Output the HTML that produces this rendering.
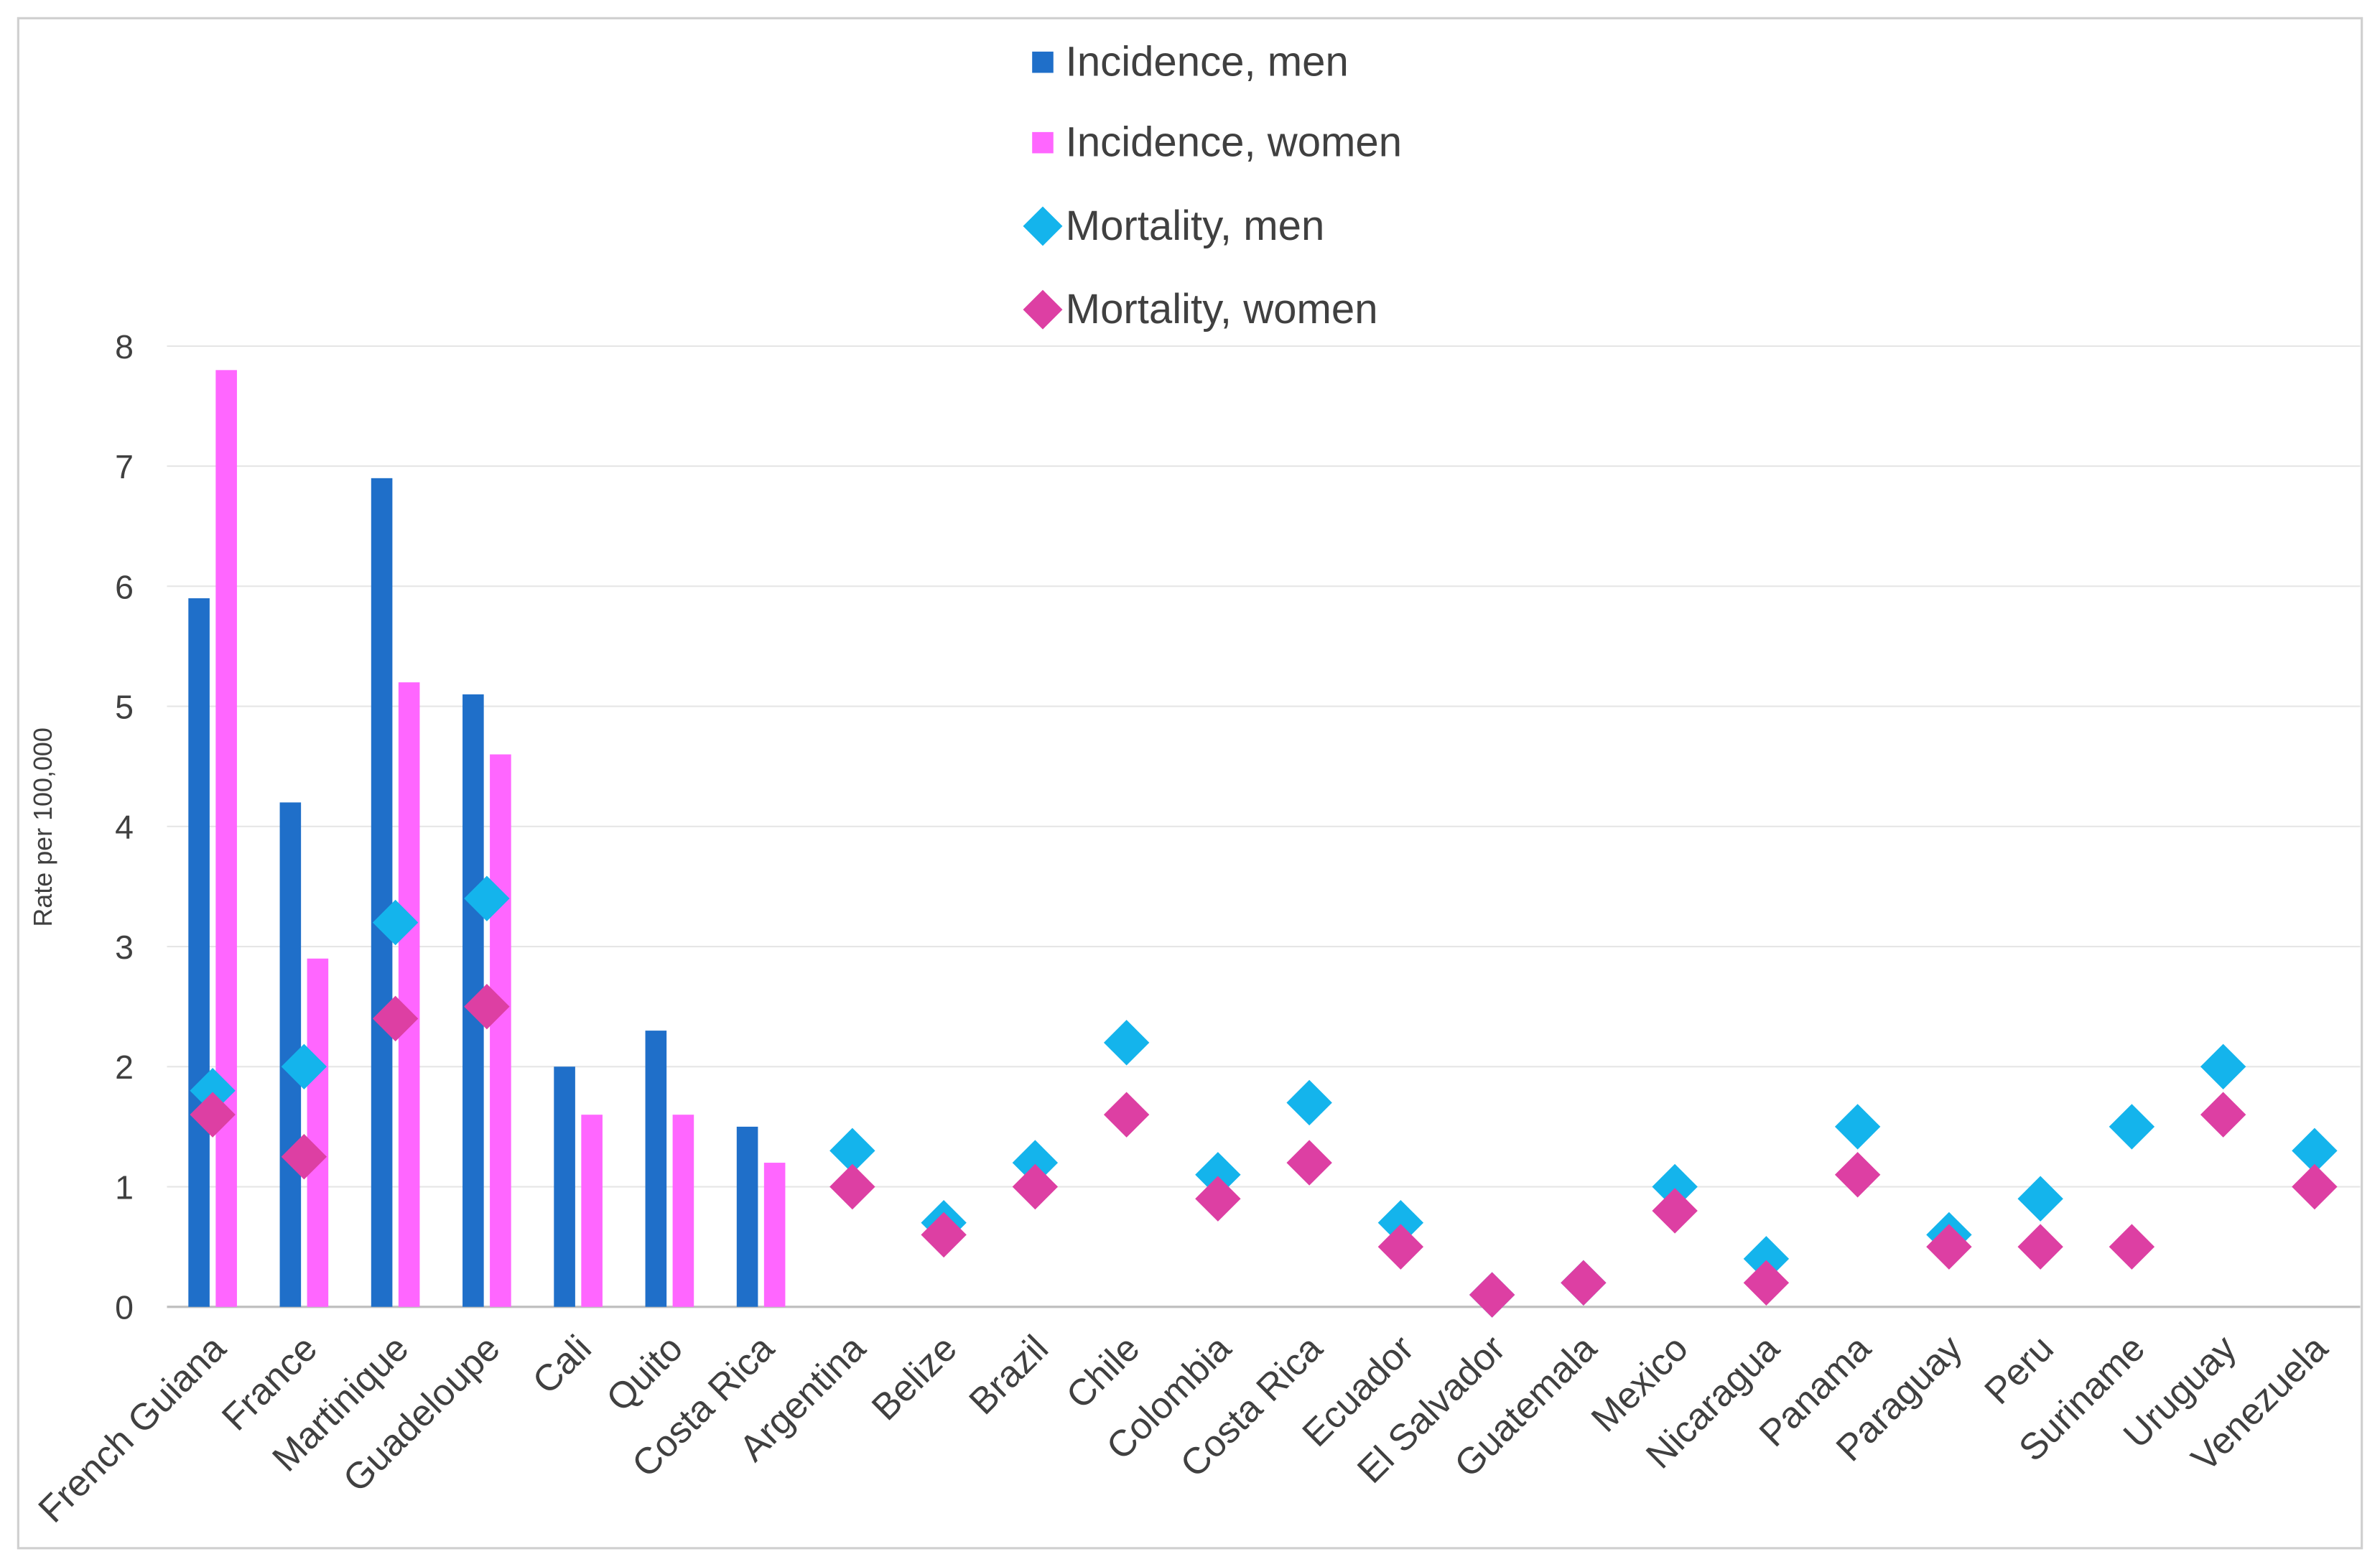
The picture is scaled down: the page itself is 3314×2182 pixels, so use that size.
<!DOCTYPE html>
<html><head><meta charset="utf-8"><style>
html,body{margin:0;padding:0;background:#fff;}
svg{display:block;font-family:"Liberation Sans",Arial,sans-serif;}
</style></head><body>
<svg id="chart" width="3314" height="2182" viewBox="0 0 1568 1032.4" preserveAspectRatio="none" xmlns="http://www.w3.org/2000/svg">
<rect x="0" y="0" width="1568" height="1032.4" fill="#fff"/>
<rect x="12" y="12" width="1544" height="1008" fill="none" stroke="#d0d0d0" stroke-width="1.5"/>
<g id="grid"></g><g id="yticks"></g><g id="bars"></g><g id="marks"></g><g id="xlabels"></g>
<text transform="translate(34,545) rotate(-90)" text-anchor="middle" font-size="17" fill="#404040">Rate per  100,000</text>
<g>
 <g><rect x="680" y="34" width="14" height="14" fill="#1f6fc9"/><text x="702" y="50" font-size="27.5" fill="#404040">Incidence, men</text></g>
 <g><rect x="680" y="87" width="14" height="14" fill="#ff66ff"/><text x="702" y="103" font-size="27.5" fill="#404040">Incidence, women</text></g>
 <g><polygon points="687,136 700,149 687,162 674,149" fill="#14b4ec"/><text x="702" y="158" font-size="27.5" fill="#404040">Mortality, men</text></g>
 <g><polygon points="687,191 700,204 687,217 674,204" fill="#dd3fa3"/><text x="702" y="213" font-size="27.5" fill="#404040">Mortality, women</text></g>
</g>
</svg>
<script>
const categories=["French Guiana","France","Martinique","Guadeloupe","Cali","Quito","Costa Rica","Argentina","Belize","Brazil","Chile","Colombia","Costa Rica","Ecuador","El Salvador","Guatemala","Mexico","Nicaragua","Panama","Paraguay","Peru","Suriname","Uruguay","Venezuela"];
const incidenceMen=[5.9,4.2,6.9,5.1,2.0,2.3,1.5,null,null,null,null,null,null,null,null,null,null,null,null,null,null,null,null,null];
const incidenceWomen=[7.8,2.9,5.2,4.6,1.6,1.6,1.2,null,null,null,null,null,null,null,null,null,null,null,null,null,null,null,null,null];
const mortalityMen=[1.8,2.0,3.2,3.4,null,null,null,1.3,0.7,1.2,2.2,1.1,1.7,0.7,0.1,0.2,1.0,0.4,1.5,0.6,0.9,1.5,2.0,1.3];
const mortalityWomen=[1.6,1.25,2.4,2.5,null,null,null,1.0,0.6,1.0,1.6,0.9,1.2,0.5,0.1,0.2,0.8,0.2,1.1,0.5,0.5,0.5,1.6,1.0];
const yTicks=[0,1,2,3,4,5,6,7,8];
const NS="http://www.w3.org/2000/svg";
const X0=110,X1=1555,Y0=861,Y8=228;
const band=(X1-X0)/categories.length;
function xc(i){return X0+band*(i+0.5);}
function ys(v){return Y0-(Y0-Y8)*v/8;}
function mk(tag,attrs,parent){const e=document.createElementNS(NS,tag);for(const k in attrs)e.setAttribute(k,attrs[k]);document.getElementById(parent).appendChild(e);return e;}
yTicks.forEach(t=>{
 const g=mk("line",{x1:X0,x2:X1,y1:ys(t),y2:ys(t),stroke:t===0?"#bfbfbf":"#e6e6e6","stroke-width":t===0?1.5:1},"grid");
 
 
 const l=mk("text",{x:88,y:ys(t)+8,"text-anchor":"end","font-size":22,fill:"#404040"},"yticks");
 l.textContent=t;
 
 
});
const bw=14;
categories.forEach((c,i)=>{
 if(incidenceMen[i]!=null){
  const r=mk("rect",{x:xc(i)-9-bw/2,y:ys(incidenceMen[i]),width:bw,height:Y0-ys(incidenceMen[i]),fill:"#1f6fc9"},"bars");
  
  
 }
 if(incidenceWomen[i]!=null){
  const r=mk("rect",{x:xc(i)+9-bw/2,y:ys(incidenceWomen[i]),width:bw,height:Y0-ys(incidenceWomen[i]),fill:"#ff66ff"},"bars");
  
  
 }
});
function diamond(i,v,col,name){
 const x=xc(i),y=ys(v),s=15;
 const p=mk("polygon",{points:`${x},${y-s} ${x+s},${y} ${x},${y+s} ${x-s},${y}`,fill:col},"marks");
 
 
}
categories.forEach((c,i)=>{if(mortalityMen[i]!=null)diamond(i,mortalityMen[i],"#14b4ec","point-mortality-men");});
categories.forEach((c,i)=>{if(mortalityWomen[i]!=null)diamond(i,mortalityWomen[i],"#dd3fa3","point-mortality-women");});
categories.forEach((c,i)=>{
 const x=xc(i)+10,y=890;
 const t=mk("text",{transform:`translate(${x},${y}) rotate(-45)`,"text-anchor":"end","font-size":24.5,fill:"#404040"},"xlabels");
 t.textContent=c;
 
 
});
</script>
</body></html>
